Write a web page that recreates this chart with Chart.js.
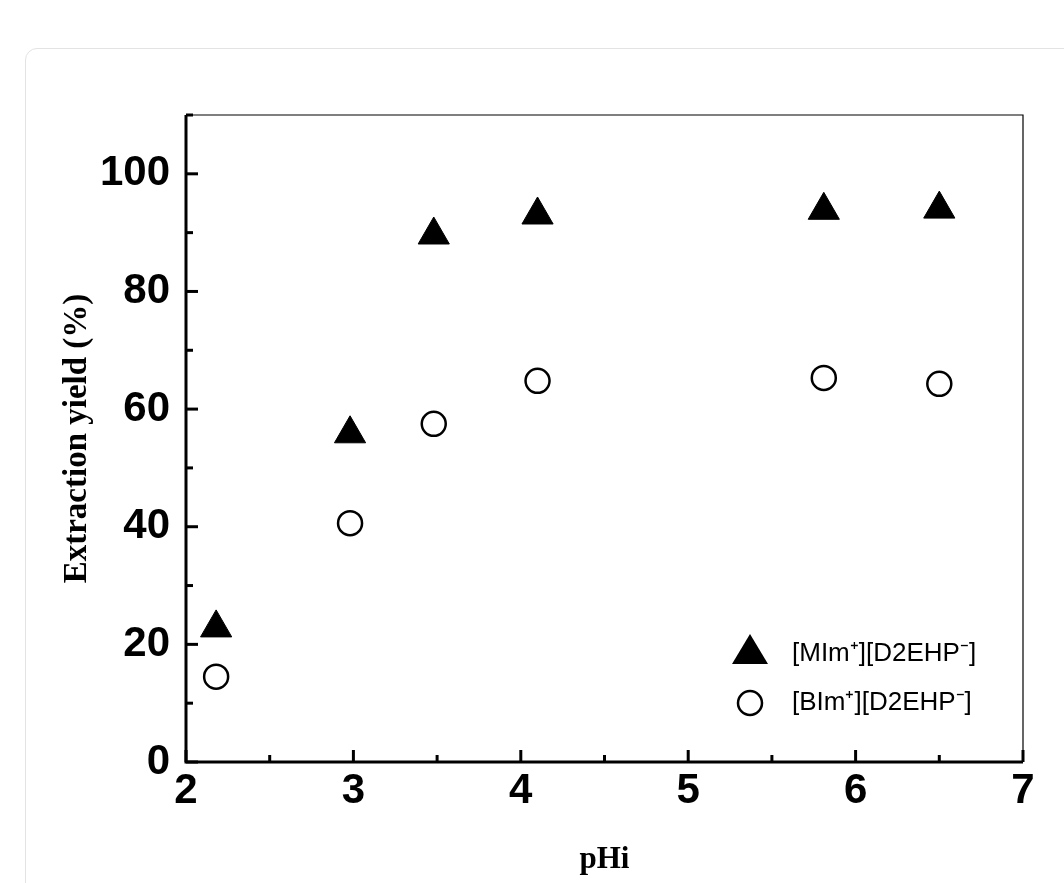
<!DOCTYPE html>
<html><head><meta charset="utf-8">
<script src="https://cdn.jsdelivr.net/npm/chart.js@4/dist/chart.umd.min.js"></script>
<style>
html,body{margin:0;padding:0;background:#fff;overflow:hidden}
#card{position:absolute;left:25px;top:48px;width:1100px;height:900px;border:1px solid #e3e3e3;border-radius:12px}
#wrap{position:absolute;left:0;top:0;width:1064px;height:883px}
</style></head><body>
<div id="card"></div>
<div id="wrap"><canvas id="c" width="1064" height="883"></canvas></div>
<script>
const pHi = [2.18, 2.98, 3.48, 4.10, 5.81, 6.50];
const mimYield = [22.8, 55.8, 89.6, 93.0, 93.8, 94.0];
const bimYield = [14.5, 40.6, 57.5, 64.8, 65.3, 64.3];
const seriesNames = ['[MIm⁺][D2EHP⁻]', '[BIm⁺][D2EHP⁻]'];
const xTicks = [2,3,4,5,6,7];
const yTicks = [0,20,40,60,80,100];

const framePlugin = {
  id:'frame',
  afterDraw(chart){
    const {ctx, chartArea:a, scales:{x,y}} = chart;
    ctx.save();
    ctx.strokeStyle='#000';
    ctx.lineWidth=1.2;
    ctx.beginPath(); ctx.moveTo(a.left,a.top); ctx.lineTo(a.right,a.top); ctx.lineTo(a.right,a.bottom); ctx.stroke();
    ctx.lineWidth=3;
    ctx.beginPath(); ctx.moveTo(a.left,a.top); ctx.lineTo(a.left,a.bottom); ctx.lineTo(a.right,a.bottom); ctx.stroke();
    for(let v=2; v<=7; v+=0.5){
      const px=x.getPixelForValue(v), L=(v%1===0)?12:7;
      ctx.beginPath(); ctx.moveTo(px,a.bottom); ctx.lineTo(px,a.bottom-L); ctx.stroke();
    }
    for(let v=0; v<=110; v+=10){
      const py=y.getPixelForValue(v), L=(v%20===0)?12:7;
      ctx.beginPath(); ctx.moveTo(a.left,py); ctx.lineTo(a.left+L,py); ctx.stroke();
    }
    ctx.fillStyle='#000';
    ctx.beginPath(); ctx.moveTo(750,634); ctx.lineTo(768,664); ctx.lineTo(732,664); ctx.closePath(); ctx.fill();
    ctx.lineWidth=2.5;
    ctx.beginPath(); ctx.arc(750,703,12,0,Math.PI*2); ctx.stroke();
    ctx.font='26px "Liberation Sans Narrow", "Liberation Sans", Arial, sans-serif';
    ctx.textBaseline='middle';
    ctx.fillText(seriesNames[0],792,654);
    ctx.fillText(seriesNames[1],792,703);
    ctx.restore();
  }
};

new Chart(document.getElementById('c'),{
  type:'scatter',
  data:{datasets:[
    {label:seriesNames[0],data:pHi.map((v,i)=>({x:v,y:mimYield[i]})),pointStyle:'triangle',pointRadius:18,backgroundColor:'#000',borderColor:'#000',pointHoverRadius:18},
    {label:seriesNames[1],data:pHi.map((v,i)=>({x:v,y:bimYield[i]})),pointStyle:'circle',pointRadius:12,backgroundColor:'rgba(0,0,0,0)',borderColor:'#000',borderWidth:2.5,pointHoverRadius:12}
  ]},
  options:{
    responsive:false,animation:false,
    layout:{padding:{left:0,top:115,right:41,bottom:0}},
    plugins:{legend:{display:false},tooltip:{enabled:false}},
    scales:{
      x:{type:'linear',min:2,max:7,
        afterBuildTicks:s=>{s.ticks=xTicks.map(v=>({value:v}));},
        afterFit:s=>{s.height=121;},
        grid:{display:false},border:{display:false},
        ticks:{color:'#000',padding:-4,font:{family:'"Liberation Sans Narrow", "Liberation Sans", Arial',weight:'bold',size:42}},
        title:{display:true,text:'pHi',color:'#000',padding:{top:12},font:{family:'"Liberation Serif", "Times New Roman", serif',weight:'bold',size:31}}
      },
      y:{type:'linear',min:0,max:110,
        afterBuildTicks:s=>{s.ticks=yTicks.map(v=>({value:v}));},
        afterFit:s=>{s.width=186;},
        grid:{display:false},border:{display:false},
        ticks:{color:'#000',padding:8,font:{family:'"Liberation Sans Narrow", "Liberation Sans", Arial',weight:'bold',size:42}},
        title:{display:true,text:'Extraction yield (%)',color:'#000',padding:{top:58,bottom:0},font:{family:'"Liberation Serif", "Times New Roman", serif',weight:'bold',size:33}}
      }
    }
  },
  plugins:[framePlugin]
});
</script></body></html>
